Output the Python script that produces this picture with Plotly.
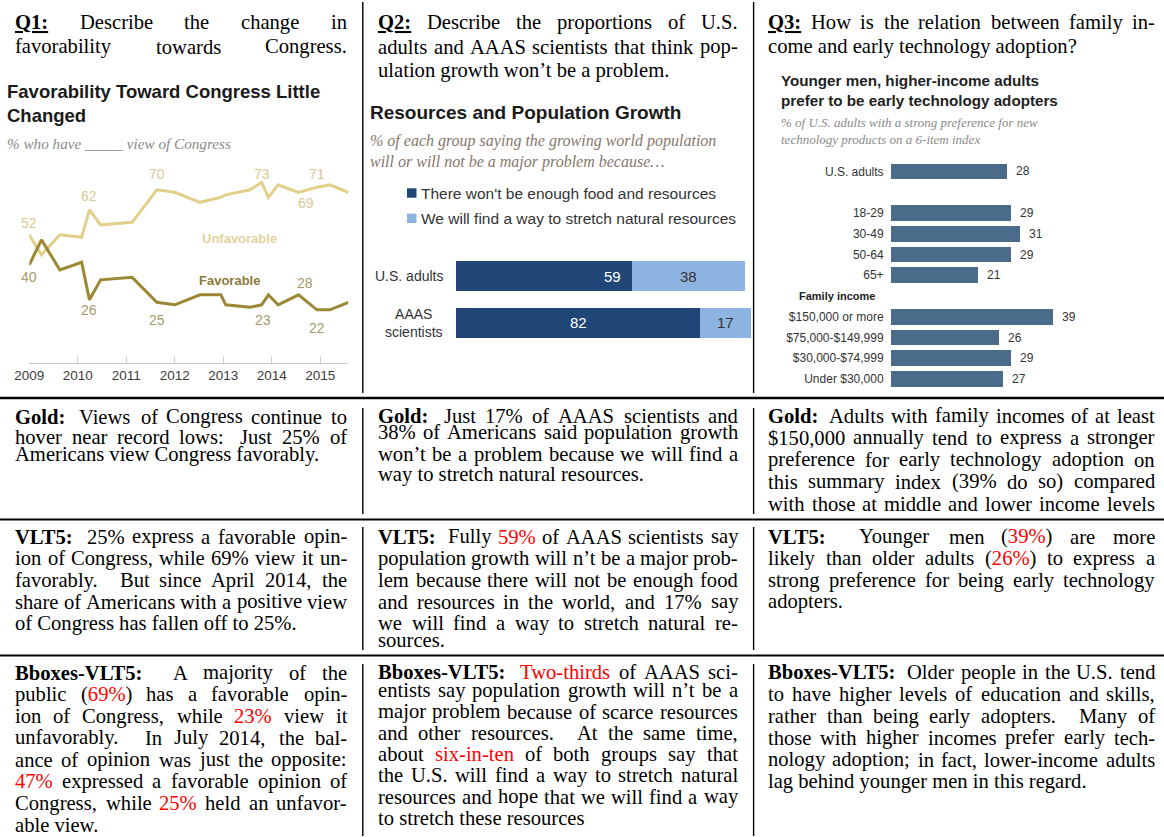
import plotly.graph_objects as go

W, H = 1164, 837

# ================= DATA =================
# Q1 chart: Favorability toward Congress
survey_dates = [2009.0, 2009.25, 2009.63, 2010.08, 2010.24, 2010.47, 2011.12,
                2011.63, 2012.0, 2012.52, 2012.95, 2013.05, 2013.55, 2013.79,
                2013.93, 2014.13, 2014.55, 2014.93, 2015.2, 2015.58]
unfavorable = [52, 44, 52, 51, 62, 56, 57, 70, 69, 65, 67, 68, 70, 73, 67, 72, 69, 71, 72, 69]
favorable = [40, 50, 38, 41, 26, 34, 35, 25, 24, 28, 28, 24, 23, 24, 28, 24, 28, 22, 22, 25]
year_ticks = [2009, 2010, 2011, 2012, 2013, 2014, 2015]
unfav_labelled = [0, 4, 7, 13, 16, 17, 19]
fav_labelled = [0, 4, 7, 12, 16, 17, 19]

# Q2 chart: Resources and population growth
q2_groups = ["U.S. adults", "AAAS<br>scientists"]
q2_not_enough = [59, 82]
q2_find_way = [38, 17]
q2_legend = ["There won't be enough food and resources",
             "We will find a way to stretch natural resources"]

# Q3 chart: early technology adopters
q3_labels = ["U.S. adults", "18-29", "30-49", "50-64", "65+",
             "$150,000 or more", "$75,000-$149,999", "$30,000-$74,999", "Under $30,000"]
q3_values = [28, 29, 31, 29, 21, 39, 26, 29, 27]
q3_group_sizes = [1, 4, 4]
q3_group_header = "Family income"

# ================= STYLE =================
SERIF = "Liberation Serif, Times New Roman, serif"
SANS = "Liberation Sans, Arial, sans-serif"
FS = 20.6
UNF_C, FAV_C = "#e2cf8a", "#9c8834"
UNF_LBL, FAV_LBL = "#d8ca94", "#a59b68"
Q2_DARK, Q2_LIGHT = "#1f4677", "#8eb4e2"
Q3_C = "#4a6b89"

def px(x):
    return x / W

def py(y):
    return 1 - y / H

# ---------- Times metrics for justification ----------
TR, TB = {}, {}
def _set(d, chars, w):
    for c in chars:
        d[c] = w
_set(TR, " .,", 250); _set(TR, ":;", 278); _set(TR, "!", 333); _set(TR, "?", 444)
_set(TR, "'’()-", 333); _set(TR, "%", 833); _set(TR, "$0123456789", 500)
for c, w in zip("abcdefghijklmnopqrstuvwxyz",
                [444, 500, 444, 500, 444, 333, 500, 500, 278, 278, 500, 278, 778, 500, 500, 500, 500, 333, 389, 278, 500, 500, 722, 500, 500, 444]):
    TR[c] = w
for c, w in zip("ABCDEFGHIJKLMNOPQRSTUVWXYZ",
                [722, 667, 667, 722, 611, 556, 722, 722, 333, 389, 722, 611, 889, 722, 722, 556, 722, 667, 556, 611, 722, 722, 944, 722, 722, 611]):
    TR[c] = w
_set(TB, " .,", 250); _set(TB, ":;-()", 333); _set(TB, "%", 1000); _set(TB, "0123456789", 500)
for c, w in zip("abcdefghijklmnopqrstuvwxyz",
                [500, 556, 444, 556, 444, 333, 500, 556, 278, 333, 556, 278, 833, 556, 500, 556, 556, 444, 389, 333, 556, 500, 722, 500, 500, 444]):
    TB[c] = w
for c, w in zip("ABCDEFGHIJKLMNOPQRSTUVWXYZ",
                [722, 667, 722, 722, 667, 611, 778, 778, 389, 500, 778, 667, 944, 722, 778, 611, 778, 722, 556, 667, 722, 722, 1000, 722, 722, 667]):
    TB[c] = w


def parse_word(word):
    segs, cur = [], ""
    b = r = u = False
    for ch in word:
        if ch in "*~_":
            if cur:
                segs.append((cur, b, r, u))
                cur = ""
            if ch == "*":
                b = not b
            elif ch == "~":
                r = not r
            else:
                u = not u
        else:
            cur += ch
    if cur:
        segs.append((cur, b, r, u))
    return segs


def seg_width(segs, fs):
    tot = 0
    for t, b, r, u in segs:
        tab = TB if b else TR
        tot += sum(tab.get(c, 500) for c in t)
    return tot * fs / 1000.0


def seg_html(segs):
    out = ""
    for t, b, r, u in segs:
        s = t.replace("&", "&amp;").replace("<", "&lt;").replace(">", "&gt;")
        if u:
            s = "<u>" + s + "</u>"
        if b:
            s = "<b>" + s + "</b>"
        if r:
            s = "<span style='color:#ff0000'>" + s + "</span>"
        out += s
    return out


def space_factor(segs):
    plain = "".join(s[0] for s in segs)
    if any(s[3] for s in segs):      # boxed (underlined) words reset the space factor
        return 1.0
    last = plain[-1]
    if last in ".?!":
        if len(plain) >= 2 and plain[-2].isupper():
            return 1.0
        return 3.0
    if last == ":":
        return 2.0
    if last == ";":
        return 1.5
    if last == ",":
        return 1.25
    return 1.0


annotations = []


def add_line(text, left, right, yc, justify, fs=FS):
    words = text.split(" ")
    parsed = [parse_word(w) for w in words]
    if not justify:
        annotations.append(dict(
            text=" ".join(seg_html(p) for p in parsed), x=px(left), y=py(yc),
            xref="paper", yref="paper", xanchor="left", yanchor="middle",
            showarrow=False, borderpad=0, borderwidth=0,
            font=dict(family=SERIF, size=fs, color="#000")))
        return
    widths = [seg_width(p, fs) for p in parsed]
    nat, st = [], []
    for p in parsed[:-1]:
        sf = space_factor(p)
        nat.append(0.25 * fs + (0.1 * fs if sf >= 2 else 0))
        st.append(sf)
    extra = (right - left) - sum(widths) - sum(nat)
    if extra >= 0:
        tot = sum(st)
        gaps = [n + extra * s / tot for n, s in zip(nat, st)]
    else:
        gaps = [n + extra / len(nat) for n in nat]
    x = left
    for i, p in enumerate(parsed):
        annotations.append(dict(
            text=seg_html(p), x=px(x), y=py(yc),
            xref="paper", yref="paper", xanchor="left", yanchor="middle",
            showarrow=False, borderpad=0, borderwidth=0,
            font=dict(family=SERIF, size=fs, color="#000")))
        if i < len(gaps):
            x += widths[i] + gaps[i]


COLS = [(15, 347), (378, 738), (768, 1155)]

cells = [
    # header questions
    (0, [22.5, 46.5], [("*_Q1:_* Describe the change in", True),
                       ("favorability towards Congress.", True)]),
    (1, [22.5, 46.5, 70], [("*_Q2:_* Describe the proportions of U.S.", True),
                           ("adults and AAAS scientists that think pop-", True),
                           ("ulation growth won’t be a problem.", False)]),
    (2, [22.5, 46.5], [("*_Q3:_* How is the relation between family in-", True),
                       ("come and early technology adoption?", False)]),
    # Gold
    (0, [416.5, 436.5, 454.5], [("*Gold:* Views of Congress continue to", True),
                                ("hover near record lows: Just 25% of", True),
                                ("Americans view Congress favorably.", False)]),
    (1, [416, 432, 454, 475], [("*Gold:* Just 17% of AAAS scientists and", True),
                               ("38% of Americans said population growth", True),
                               ("won’t be a problem because we will find a", True),
                               ("way to stretch natural resources.", False)]),
    (2, [415.5, 437.5, 459.5, 481.5, 503.5], [("*Gold:* Adults with family incomes of at least", True),
                                              ("$150,000 annually tend to express a stronger", True),
                                              ("preference for early technology adoption on", True),
                                              ("this summary index (39% do so) compared", True),
                                              ("with those at middle and lower income levels", True)]),
    # VLT5
    (0, [536.5, 558, 580, 601.5, 623], [("*VLT5:* 25% express a favorable opin-", True),
                                        ("ion of Congress, while 69% view it un-", True),
                                        ("favorably. But since April 2014, the", True),
                                        ("share of Americans with a positive view", True),
                                        ("of Congress has fallen off to 25%.", False)]),
    (1, [536.5, 558, 580, 601.5, 623, 640], [("*VLT5:* Fully ~59%~ of AAAS scientists say", True),
                                             ("population growth will n’t be a major prob-", True),
                                             ("lem because there will not be enough food", True),
                                             ("and resources in the world, and 17% say", True),
                                             ("we will find a way to stretch natural re-", True),
                                             ("sources.", False)]),
    (2, [536.5, 558, 580, 601.5], [("*VLT5:* Younger men (~39%~) are more", True),
                                   ("likely than older adults (~26%~) to express a", True),
                                   ("strong preference for being early technology", True),
                                   ("adopters.", False)]),
    # Bboxes-VLT5
    (0, [672.5, 694.3, 716, 737.8, 759.6, 781.4, 803.2, 825],
     [("*Bboxes-VLT5:* A majority of the", True),
      ("public (~69%~) has a favorable opin-", True),
      ("ion of Congress, while ~23%~ view it", True),
      ("unfavorably. In July 2014, the bal-", True),
      ("ance of opinion was just the opposite:", True),
      ("~47%~ expressed a favorable opinion of", True),
      ("Congress, while ~25%~ held an unfavor-", True),
      ("able view.", False)]),
    (1, [672, 690, 711.7, 733.3, 754, 775.3, 796.7, 818.3],
     [("*Bboxes-VLT5:* ~Two-thirds~ of AAAS sci-", True),
      ("entists say population growth will n’t be a", True),
      ("major problem because of scarce resources", True),
      ("and other resources. At the same time,", True),
      ("about ~six-in-ten~ of both groups say that", True),
      ("the U.S. will find a way to stretch natural", True),
      ("resources and hope that we will find a way", True),
      ("to stretch these resources", False)]),
    (2, [672, 694, 716, 737.7, 759.7, 781.7],
     [("*Bboxes-VLT5:* Older people in the U.S. tend", True),
      ("to have higher levels of education and skills,", True),
      ("rather than being early adopters. Many of", True),
      ("those with higher incomes prefer early tech-", True),
      ("nology adoption; in fact, lower-income adults", True),
      ("lag behind younger men in this regard.", False)]),
]

for col, ys, lines in cells:
    left, right = COLS[col]
    for yc, (txt, just) in zip(ys, lines):
        add_line(txt, left, right, yc, just)

# ================= FIGURE =================
fig = go.Figure()

# ---- Q1 line chart ----
fig.add_trace(go.Scatter(x=survey_dates, y=unfavorable, mode="lines",
                         line=dict(color=UNF_C, width=3), xaxis="x", yaxis="y",
                         hoverinfo="skip"))
fig.add_trace(go.Scatter(x=survey_dates, y=favorable, mode="lines",
                         line=dict(color=FAV_C, width=3), xaxis="x", yaxis="y",
                         hoverinfo="skip"))

unf_shift = {0: (0, 11.5), 4: (0, 14), 7: (0, 16), 13: (0, 8.5), 16: (8, -11), 17: (0, 13), 19: (0, -7)}
fav_shift = {0: (0, -12.5), 4: (0, -10.5), 7: (0, -17.5), 12: (13, -12.5), 16: (6.5, 11.5), 17: (0, -18.5), 19: (0, 10.5)}
for i in unfav_labelled:
    dx, dy = unf_shift[i]
    annotations.append(dict(text=str(unfavorable[i]), x=survey_dates[i], y=unfavorable[i],
                            xref="x", yref="y", showarrow=False, xshift=dx, yshift=dy,
                            font=dict(family=SANS, size=14, color=UNF_LBL)))
for i in fav_labelled:
    dx, dy = fav_shift[i]
    annotations.append(dict(text=str(favorable[i]), x=survey_dates[i], y=favorable[i],
                            xref="x", yref="y", showarrow=False, xshift=dx, yshift=dy,
                            font=dict(family=SANS, size=14, color=FAV_LBL)))

annotations += [
    dict(text="<b>Unfavorable</b>", x=px(200), y=py(229), xref="paper", yref="paper",
         showarrow=False, font=dict(family=SANS, size=13, color="#e0d3a0")),
    dict(text="<b>Favorable</b>", x=px(197), y=py(280.5), xref="paper", yref="paper",
         showarrow=False, font=dict(family=SANS, size=13, color="#8c7b3a")),
    dict(text="<b>Favorability Toward Congress Little</b>", x=px(6), y=py(91.5),
         xref="paper", yref="paper", xanchor="left", yanchor="middle", showarrow=False,
         borderpad=0, font=dict(family=SANS, size=18.5, color="#1a1a1a")),
    dict(text="<b>Changed</b>", x=px(6), y=py(115), xref="paper", yref="paper",
         xanchor="left", yanchor="middle", showarrow=False, borderpad=0,
         font=dict(family=SANS, size=18.5, color="#1a1a1a")),
    dict(text="<i>% who have _____ view of Congress</i>", x=px(6), y=py(143.5),
         xref="paper", yref="paper", xanchor="left", yanchor="middle", showarrow=False,
         borderpad=0, font=dict(family=SERIF, size=15.2, color="#8a8a8a")),
]

# ---- Q2 stacked bar chart ----
q2_pos = list(range(len(q2_groups)))
fig.add_trace(go.Bar(y=q2_pos, x=q2_not_enough, orientation="h", width=0.645,
                     marker=dict(color=Q2_DARK, line=dict(width=0)),
                     xaxis="x2", yaxis="y2", hoverinfo="skip"))
fig.add_trace(go.Bar(y=q2_pos, x=q2_find_way, orientation="h", width=0.645,
                     marker=dict(color=Q2_LIGHT, line=dict(width=0)),
                     xaxis="x2", yaxis="y2", hoverinfo="skip"))
for i, g in enumerate(q2_groups):
    annotations.append(dict(text=g, x=px(444), y=i, xref="paper", yref="y2",
                            xanchor="right", yanchor="middle", align="center",
                            showarrow=False, borderpad=0,
                            font=dict(family=SANS, size=14, color="#333")))
    v1, v2 = q2_not_enough[i], q2_find_way[i]
    if i == 0:
        annotations.append(dict(text=str(v1), x=v1, y=i, xref="x2", yref="y2",
                                xanchor="right", xshift=-9, showarrow=False,
                                font=dict(family=SANS, size=15, color="white")))
    else:
        annotations.append(dict(text=str(v1), x=v1 / 2, y=i, xref="x2", yref="y2",
                                showarrow=False, font=dict(family=SANS, size=15, color="white")))
    annotations.append(dict(text=str(v2), x=v1 + v2 / 2, y=i, xref="x2", yref="y2",
                            showarrow=False, font=dict(family=SANS, size=15, color="#333")))

annotations += [
    dict(text="<b>Resources and Population Growth</b>", x=px(369), y=py(112.5),
         xref="paper", yref="paper", xanchor="left", yanchor="middle", showarrow=False,
         borderpad=0, font=dict(family=SANS, size=19, color="#1a1a1a")),
    dict(text="<i>% of each group saying the growing world population</i>", x=px(369),
         y=py(141.5), xref="paper", yref="paper", xanchor="left", yanchor="middle",
         showarrow=False, borderpad=0, font=dict(family=SERIF, size=16, color="#86776a")),
    dict(text="<i>will or will not be a major problem because…</i>", x=px(369),
         y=py(161.5), xref="paper", yref="paper", xanchor="left", yanchor="middle",
         showarrow=False, borderpad=0, font=dict(family=SERIF, size=16, color="#86776a")),
]
shapes = []
for k, (lbl, col) in enumerate(zip(q2_legend, [Q2_DARK, Q2_LIGHT])):
    yc = 193 + k * 25.3
    shapes.append(dict(type="rect", xref="paper", yref="paper", x0=px(407), x1=px(416.5),
                       y0=py(yc - 4.7), y1=py(yc + 4.7), fillcolor=col, line=dict(width=0)))
    annotations.append(dict(text=lbl, x=px(419.5), y=py(yc), xref="paper", yref="paper",
                            xanchor="left", yanchor="middle", showarrow=False, borderpad=0,
                            font=dict(family=SANS, size=15.5, color="#333")))

# ---- Q3 bar chart ----
slots = []
s = 0
for n in q3_group_sizes:
    for _ in range(n):
        slots.append(s)
        s += 1
    s += 1
header_slot = slots[q3_group_sizes[0] + q3_group_sizes[1]] - 1
fig.add_trace(go.Bar(y=slots, x=q3_values, orientation="h", width=0.75,
                     marker=dict(color=Q3_C, line=dict(width=0)),
                     xaxis="x3", yaxis="y3", hoverinfo="skip"))
for yv, v in zip(slots, q3_values):
    annotations.append(dict(text=str(v), x=v, y=yv, xref="x3", yref="y3",
                            xanchor="left", xshift=7, showarrow=False,
                            font=dict(family=SANS, size=12, color="#333")))
annotations += [
    dict(text="<b>" + q3_group_header + "</b>", x=px(798), y=header_slot, xref="paper",
         yref="y3", xanchor="left", yanchor="middle", showarrow=False, borderpad=0,
         font=dict(family=SANS, size=11, color="#222")),
    dict(text="<b>Younger men, higher-income adults</b>", x=px(779.5), y=py(80.7),
         xref="paper", yref="paper", xanchor="left", yanchor="middle", showarrow=False,
         borderpad=0, font=dict(family=SANS, size=15.2, color="#222")),
    dict(text="<b>prefer to be early technology adopters</b>", x=px(779.5), y=py(100.7),
         xref="paper", yref="paper", xanchor="left", yanchor="middle", showarrow=False,
         borderpad=0, font=dict(family=SANS, size=15.2, color="#222")),
    dict(text="<i>% of U.S. adults with a strong preference for new</i>", x=px(779.5),
         y=py(123), xref="paper", yref="paper", xanchor="left", yanchor="middle",
         showarrow=False, borderpad=0, font=dict(family=SERIF, size=13, color="#8a8a8a")),
    dict(text="<i>technology products on a 6-item index</i>", x=px(779.5),
         y=py(139.3), xref="paper", yref="paper", xanchor="left", yanchor="middle",
         showarrow=False, borderpad=0, font=dict(family=SERIF, size=13, color="#8a8a8a")),
]

# ---- table rules ----
for yv, lw in [(398, 2.5), (519.5, 2), (655.5, 2)]:
    shapes.append(dict(type="line", xref="paper", yref="paper", x0=0, x1=1,
                       y0=py(yv), y1=py(yv), line=dict(color="#000", width=lw)))
for xv in [362.8, 753.6]:
    for y0, y1 in [(2, 393), (408, 514), (527, 650), (664, 836)]:
        shapes.append(dict(type="line", xref="paper", yref="paper", x0=px(xv), x1=px(xv),
                           y0=py(y0), y1=py(y1), line=dict(color="#000", width=1.4)))

# ================= LAYOUT =================
x_px0, x_px1 = 29.3, 348.4
px_per_year = 48.5
y_top, y_bot = 170.0, 362.7
fig.update_layout(
    width=W, height=H,
    margin=dict(l=0, r=0, t=0, b=0, pad=0, autoexpand=False),
    paper_bgcolor="white", plot_bgcolor="white",
    showlegend=False, hovermode=False, barmode="stack",
    xaxis=dict(domain=[px(x_px0), px(x_px1)],
               range=[2009, 2009 + (x_px1 - x_px0) / px_per_year],
               tickvals=year_ticks, ticktext=[str(t) for t in year_ticks],
               ticks="inside", ticklen=7, tickcolor="#d0d0d0", tickwidth=1,
               showline=True, linecolor="#c4c4c4", linewidth=1,
               showgrid=False, zeroline=False, anchor="y", automargin=False,
               tickfont=dict(family=SANS, size=13.5, color="#3c3c3c")),
    yaxis=dict(domain=[py(y_bot), py(y_top)],
               range=[73 - (y_bot - 182.33) / 2.5, 73 + (182.33 - y_top) / 2.5],
               visible=False, anchor="x", automargin=False),
    xaxis2=dict(domain=[px(456), px(754)], range=[0, 100], visible=False, anchor="y2",
                automargin=False),
    yaxis2=dict(domain=[py(345.75), py(252.75)], range=[1.5, -0.5], visible=False,
                anchor="x2", automargin=False),
    xaxis3=dict(domain=[px(891), px(1160)], range=[0, (1160 - 891) / 4.15],
                visible=False, anchor="y3", automargin=False),
    yaxis3=dict(domain=[py(389.4), py(161.1)], range=[10.5, -0.5],
                tickvals=slots, ticktext=q3_labels, ticks="outside", ticklen=4,
                tickcolor="rgba(0,0,0,0)", showgrid=False, zeroline=False,
                showline=False, anchor="x3", automargin=False,
                tickfont=dict(family=SANS, size=12, color="#333")),
    annotations=annotations,
    shapes=shapes,
)

fig.write_html("out.html", config={"displayModeBar": False, "staticPlot": True},
               post_script="document.body.style.margin='0';")
